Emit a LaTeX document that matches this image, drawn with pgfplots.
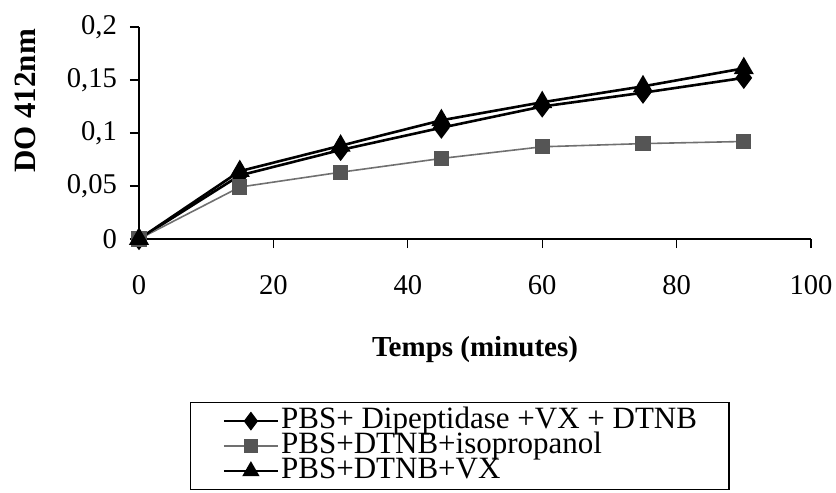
\documentclass[border=0pt]{standalone}
\usepackage{fontspec}
\setmainfont{Liberation Serif}
\usepackage{pgfplots}
\pgfplotsset{compat=1.18}
\definecolor{sqgray}{HTML}{555555}
\definecolor{lngray}{HTML}{707070}
\begin{document}
\begin{tikzpicture}
\path[use as bounding box] (-69.5pt,-127pt) rectangle (348.5pt,119.5pt);
\begin{axis}[
  at={(0pt,0pt)}, anchor=south west,
  scale only axis, width=336pt, height=106pt,
  xmin=0, xmax=100, ymin=0, ymax=0.2,
  axis lines*=left,
  axis line style={black, line width=0.6pt},
  xtick={0,20,40,60,80,100},
  ytick={0,0.05,0.1,0.15,0.2},
  tick align=outside,
  major tick length=4.5pt,
  tick style={black, line width=0.6pt},
  /pgf/number format/assume math mode=true,
  /pgf/number format/use comma,
  /pgf/number format/fixed,
  /pgf/number format/precision=2,
  ticklabel style={font=\fontsize{14.3}{16}\selectfont},
  xticklabel style={yshift=-10pt},
  yticklabel style={xshift=-3pt},
  xlabel={\fontsize{14.5}{16}\selectfont\textbf{Temps (minutes)}},
  ylabel={\fontsize{15.5}{17}\selectfont\textbf{DO 412nm}},
  xlabel style={at={(axis description cs:0.5,-0.5236)}, anchor=center},
  ylabel style={at={(axis description cs:-0.1696,0.651)}, anchor=center},
  legend cell align=left,
  legend image code/.code={\draw[#1,mark repeat=2,mark phase=2] plot coordinates {(0pt,0pt) (13.5pt,0pt) (27pt,0pt)};},
  legend style={at={(axis description cs:0.0759,-0.769)}, anchor=north west,
    draw=black, line width=0.6pt, inner xsep=16pt, inner ysep=3pt,
    font=\fontsize{15.5}{12.5}\selectfont,
    nodes={inner sep=0pt, text height=10pt, text depth=2.5pt},
    column sep=1pt, row sep=0pt},
]
\addplot[black, line width=1.3pt, mark=diamond*, mark size=4.5pt, mark options={solid, fill=black},
  legend image post style={mark size=3.7pt}]
  coordinates {(0,0) (15,0.060) (30,0.084) (45,0.105) (60,0.125) (75,0.138) (90,0.152)};
\addlegendentry{PBS+ Dipeptidase +VX + DTNB}
\addplot[lngray, line width=0.8pt, mark=square*, mark size=3.4pt, mark options={solid, draw=sqgray, fill=sqgray},
  legend image post style={mark size=3pt}]
  coordinates {(0,0) (15,0.049) (30,0.063) (45,0.076) (60,0.087) (75,0.090) (90,0.092)};
\addlegendentry{PBS+DTNB+isopropanol}
\addplot[black, line width=1.3pt, mark=triangle*, mark size=4.5pt, mark options={solid, fill=black},
  legend image post style={mark size=3.7pt}]
  coordinates {(0,0) (15,0.064) (30,0.088) (45,0.112) (60,0.129) (75,0.144) (90,0.161)};
\addlegendentry{PBS+DTNB+VX}
\end{axis}
\end{tikzpicture}
\end{document}
